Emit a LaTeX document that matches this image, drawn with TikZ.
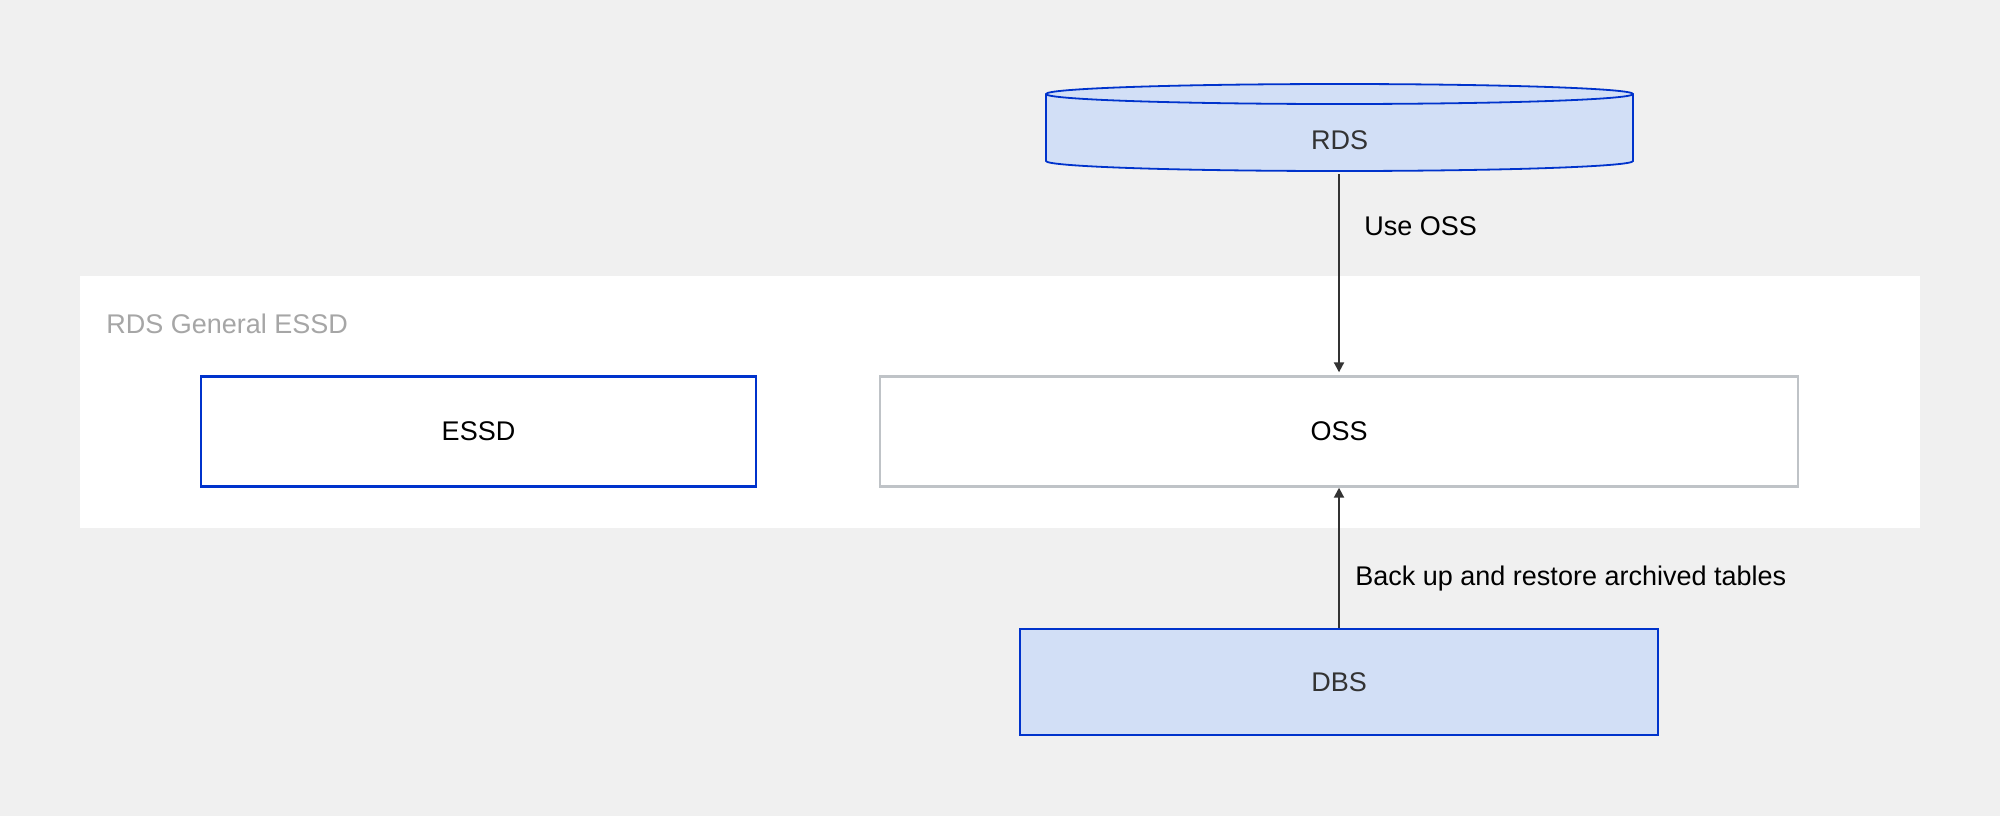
\documentclass[tikz,border=0pt]{standalone}
\usepackage{fontspec}
\setmainfont{Liberation Sans}
\usetikzlibrary{arrows.meta}
\definecolor{bgGray}{HTML}{F0F0F0}
\definecolor{edgeBlue}{HTML}{0033CC}
\definecolor{fillBlue}{HTML}{D2DFF6}
\definecolor{edgeGray}{HTML}{BFC3C7}
\definecolor{txtGray}{HTML}{A6A6A6}
\definecolor{txtDark}{HTML}{333333}

\begin{document}
\begin{tikzpicture}[x=0.5pt,y=-0.5pt,
  lbl/.style={font=\fontsize{13.5}{16}\selectfont},
  svcbox/.style={lbl, draw=edgeBlue, line width=1.2pt, minimum height=55pt},
  link/.style={draw=txtDark, line width=1pt, -{Triangle[length=5pt,width=5pt]}}]
% canvas
\fill[bgGray] (0,0) rectangle (2000,816);
\useasboundingbox (0,0) rectangle (2000,816);
% ESSD region
\fill[white] (80,276) rectangle (1920,528);
\node[lbl, txtGray, anchor=base west, inner sep=0pt] (region) at (106,333) {RDS General ESSD};
\node[svcbox, fill=white, minimum width=277.5pt] (essd) at (478.5,431.5) {ESSD};
\node[svcbox, draw=edgeGray, fill=white, minimum width=459pt] (oss) at (1339,431.5) {OSS};
% DBS
\node[svcbox, fill=fillBlue, text=txtDark, minimum width=319pt, minimum height=53pt] (dbs) at (1339,682) {DBS};
% RDS cylinder
\filldraw[fill=fillBlue, draw=edgeBlue, line width=0.9pt]
  (1046,94) -- (1046,161) arc[start angle=180, end angle=360, x radius=146.75pt, y radius=5pt]
  -- (1633,94) arc[start angle=0, end angle=180, x radius=146.75pt, y radius=5pt] -- cycle;
\draw[edgeBlue, line width=0.9pt] (1046,94) arc[start angle=180, end angle=360, x radius=146.75pt, y radius=5pt];
\node[lbl, text=txtDark] (rds) at (1339.5,140) {RDS};
\coordinate (rdsbase) at (1339,174);
% links
\draw[link, shorten >=1.5pt] (rdsbase) -- (oss.north);
\node[lbl, anchor=base west, inner sep=0pt] (uselbl) at (1364,235) {Use OSS};
\draw[link] (dbs.north) -- (oss.south);
\node[lbl, anchor=base west, inner sep=0pt] (backlbl) at (1355,585) {Back up and restore archived tables};
\end{tikzpicture}
\end{document}
